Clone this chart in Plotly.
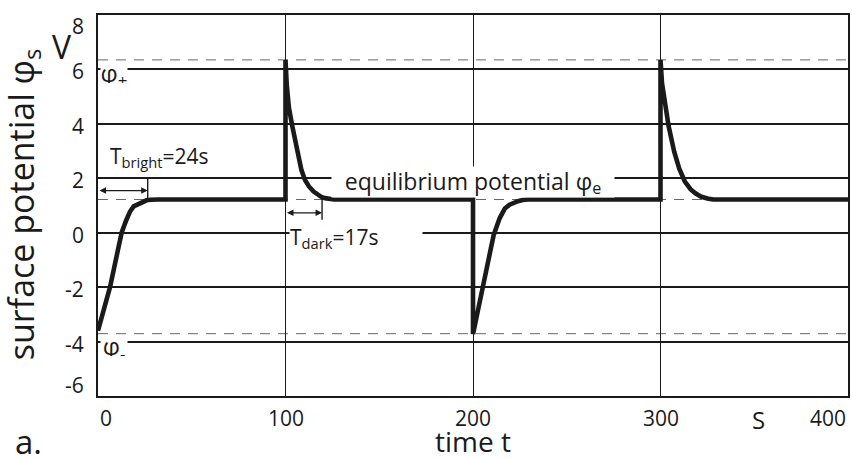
import plotly.graph_objects as go

# ---------------- data ----------------
time_s = [0, 3, 6.4, 9.5, 12.6, 15, 17, 19, 21.4, 23.5, 25.9, 28, 32,
          100, 100, 100.7, 101.8, 103.5, 106, 108.5, 110.4, 112.5, 115, 117, 119, 121, 123, 126,
          200, 200, 200.4, 202.5, 204.8, 208, 211, 214.2, 217, 219.5, 221.6, 224, 226.5, 229,
          300, 300, 300.8, 302.1, 304.3, 307.3, 310, 313, 316, 318.6, 321.5, 325, 328,
          400]
potential_V = [-3.6, -2.8, -2.0, -1.0, 0.0, 0.45, 0.77, 0.97, 1.06, 1.14, 1.19, 1.21, 1.22,
               1.22, 6.35, 5.4, 4.6, 3.96, 3.10, 2.30, 1.94, 1.70, 1.51, 1.40, 1.32, 1.27, 1.24, 1.22,
               1.22, -3.72, -3.6, -2.9, -2.11, -1.1, -0.09, 0.53, 0.89, 1.03, 1.10, 1.16, 1.20, 1.22,
               1.22, 6.35, 5.5, 4.82, 3.93, 2.98, 2.35, 1.88, 1.60, 1.45, 1.33, 1.26, 1.22,
               1.22]

phi_levels = {"plus": 6.35, "minus": -3.71, "e": 1.22}
x_ticks = [0, 100, 200, 300, 400]
y_ticks = [-6, -4, -2, 0, 2, 4, 6, 8]

t_bright_span = [0, 26.5]     # arrow extent, s
t_bright_arrow_level = 1.55
t_dark_span = [100, 119.5]
t_dark_arrow_level = 0.73

INK = "#1a1a1a"
FONT = "Open Sans"
TICK_SIZE = 21

fig = go.Figure()

fig.add_trace(go.Scatter(
    x=time_s, y=potential_V, mode="lines",
    line=dict(color=INK, width=4.6),
    hoverinfo="skip", showlegend=False,
))

shapes = []
# dashed reference potentials
for key in ["plus", "minus", "e"]:
    shapes.append(dict(type="line", xref="paper", yref="y",
                       x0=0, x1=1.003, y0=phi_levels[key], y1=phi_levels[key],
                       line=dict(color="#666666", width=1, dash="10px,8px"),
                       layer="between"))
# marker ticks for T_bright and T_dark
shapes.append(dict(type="line", xref="x", yref="y",
                   x0=t_bright_span[1], x1=t_bright_span[1], y0=phi_levels["e"], y1=2,
                   line=dict(color=INK, width=1.4)))
shapes.append(dict(type="line", xref="x", yref="y",
                   x0=t_dark_span[1], x1=t_dark_span[1], y0=0.48, y1=phi_levels["e"] + 0.03,
                   line=dict(color=INK, width=1.4)))

ann = []
# tick labels (drawn as annotations so the end labels sit inside the page like the reference)
for v in x_ticks:
    anchor = "left" if v == x_ticks[0] else ("right" if v == x_ticks[-1] else "center")
    ann.append(dict(x=v, y=0, xref="x", yref="paper", xanchor=anchor, yanchor="top",
                    yshift=-6, text=str(v), showarrow=False,
                    font=dict(family=FONT, size=TICK_SIZE, color=INK)))
for v in y_ticks:
    if v == y_ticks[-1]:
        ya, ys = "top", 5
    elif v == y_ticks[0]:
        ya, ys = "bottom", -5
    else:
        ya, ys = "middle", -2
    ann.append(dict(x=0, y=v, xref="paper", yref="y", xanchor="right", yanchor=ya,
                    xshift=-12, yshift=ys, text=str(v), showarrow=False,
                    font=dict(family=FONT, size=TICK_SIZE, color=INK)))

# double arrows
for span, lvl in [(t_bright_span, t_bright_arrow_level), (t_dark_span, t_dark_arrow_level)]:
    ann.append(dict(x=span[1], y=lvl, ax=span[0], ay=lvl, xref="x", yref="y",
                    axref="x", ayref="y", text="", showarrow=True,
                    arrowhead=2, startarrowhead=2, arrowside="end+start",
                    arrowwidth=1.3, arrowsize=1, arrowcolor=INK,
                    standoff=0, startstandoff=0))

for lvl, sign in [(6, "+"), (-4, "-")]:
    ann.append(dict(x=0, y=lvl, xref="x", yref="y", xanchor="left", yanchor="middle",
                    xshift=2, yshift=-5, height=18, width=26, text="φ<sub>%s</sub>" % sign,
                    showarrow=False, bgcolor="white", borderpad=0,
                    font=dict(family=FONT, size=24, color=INK)))

ann.append(dict(x=200, y=1.875, xref="x", yref="y", xanchor="center", yanchor="middle",
                text="equilibrium potential φ<sub>e</sub>", showarrow=False,
                bgcolor="white", width=282, height=30, borderpad=0,
                font=dict(family=FONT, size=23, color=INK)))

ann.append(dict(x=100, y=-0.18, xref="x", yref="y", xanchor="left", yanchor="middle",
                xshift=3, text="T<sub>dark</sub>=17s", showarrow=False, align="left",
                bgcolor="white", width=132, height=28, borderpad=0,
                font=dict(family=FONT, size=21, color=INK)))

ann.append(dict(x=5.5, y=2.8, xref="x", yref="y", xanchor="left", yanchor="middle",
                text="T<sub>bright</sub>=24s", showarrow=False,
                font=dict(family=FONT, size=21, color=INK)))

# axis titles / units
ann.append(dict(x=-0.0997, y=0.504, xref="paper", yref="paper", xanchor="center", yanchor="middle",
                text="surface potential φ<sub>s</sub>", textangle=-90, showarrow=False,
                font=dict(family=FONT, size=34, color=INK)))
ann.append(dict(x=-0.048, y=0.918, xref="paper", yref="paper", xanchor="center", yanchor="middle",
                text="V", showarrow=False, font=dict(family=FONT, size=32, color=INK)))
ann.append(dict(x=200, y=-0.163, xref="x", yref="paper", xanchor="center", yanchor="bottom",
                height=30, text="time t", showarrow=False,
                font=dict(family=FONT, size=28, color=INK)))
ann.append(dict(x=352, y=-0.062, xref="x", yref="paper", xanchor="center", yanchor="middle",
                text="S", showarrow=False, font=dict(family=FONT, size=24, color=INK)))
ann.append(dict(x=-0.093, y=-0.16, xref="paper", yref="paper", xanchor="center", yanchor="bottom",
                height=28, text="a.", showarrow=False,
                font=dict(family=FONT, size=33, color=INK)))

fig.update_layout(
    width=852, height=460,
    margin=dict(l=98, r=2, t=15, b=64),
    paper_bgcolor="white", plot_bgcolor="white",
    shapes=shapes, annotations=ann,
    font=dict(family=FONT, color=INK),
    xaxis=dict(range=[0, 400], tickvals=x_ticks, showgrid=True, gridcolor=INK, gridwidth=1.2,
               showline=True, linecolor=INK, linewidth=2, mirror=True, zeroline=False,
               ticks="", showticklabels=False, fixedrange=True),
    yaxis=dict(range=[-6, 8], tickvals=y_ticks, showgrid=True, gridcolor=INK, gridwidth=1.8,
               showline=True, linecolor=INK, linewidth=2, mirror=True, zeroline=False,
               ticks="", showticklabels=False, fixedrange=True),
)

fig.write_html("out.html")
